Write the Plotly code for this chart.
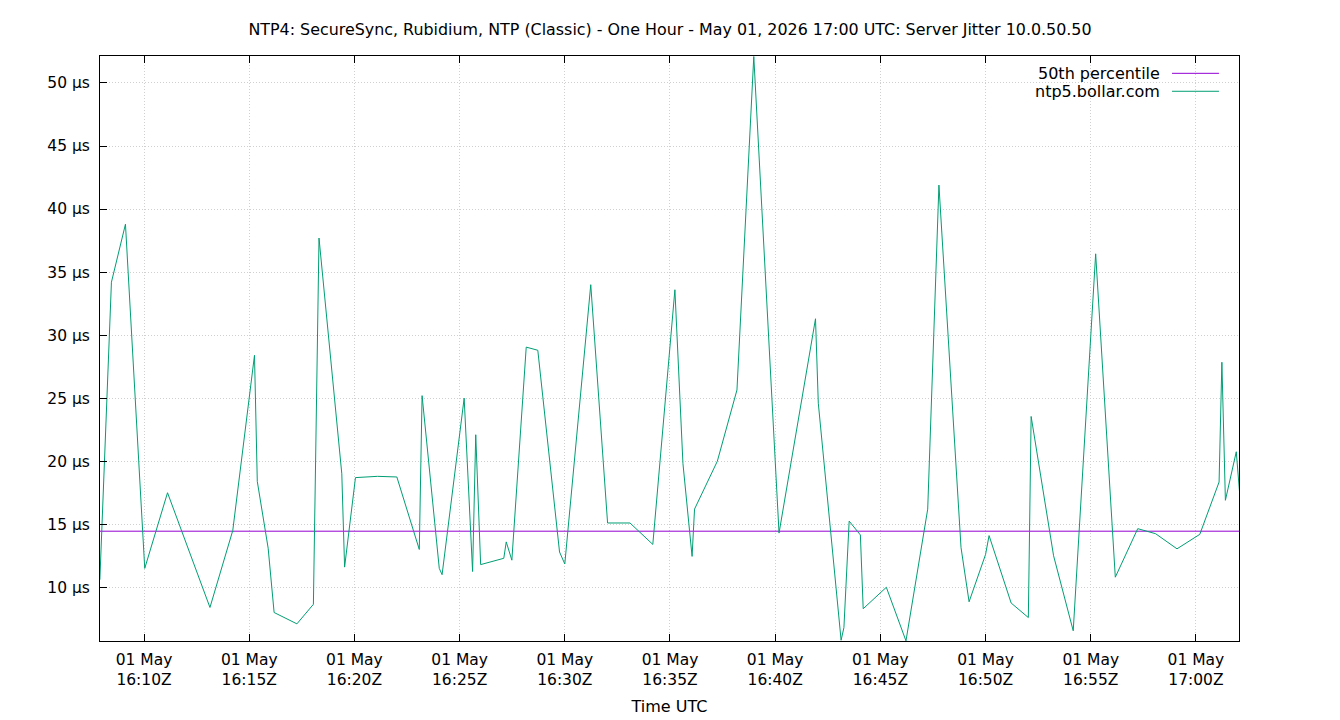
import plotly.graph_objects as go

# sample times (UTC, 01 May 2026) and server jitter in microseconds
times = [
    "16:07:54", "16:08:27", "16:09:07", "16:10:02", "16:11:07", "16:13:08",
    "16:14:13", "16:15:15", "16:15:23", "16:15:54", "16:16:11", "16:17:16",
    "16:18:03", "16:18:19", "16:19:24", "16:19:32", "16:20:03", "16:21:06",
    "16:22:01", "16:23:05", "16:23:13", "16:24:02", "16:24:10", "16:25:13",
    "16:25:37", "16:25:46", "16:26:00", "16:27:06", "16:27:13", "16:27:29",
    "16:28:10", "16:28:43", "16:29:45", "16:30:00", "16:31:14", "16:32:02",
    "16:33:06", "16:34:11", "16:35:14", "16:35:37", "16:36:03", "16:36:10",
    "16:37:15", "16:38:11", "16:38:59", "16:40:11", "16:41:55", "16:42:03",
    "16:43:08", "16:43:16", "16:43:31", "16:44:03", "16:44:11", "16:45:17",
    "16:46:13", "16:47:15", "16:47:47", "16:48:50", "16:49:13", "16:50:00",
    "16:50:10", "16:51:13", "16:52:02", "16:52:10", "16:53:14", "16:54:10",
    "16:55:14", "16:56:10", "16:57:14", "16:58:05", "16:59:06", "17:00:11",
    "17:01:06", "17:01:14", "17:01:24", "17:01:55", "17:02:08",
]
jitter = [
    10.6, 34.2, 38.8, 11.5, 17.5, 8.4,
    14.5, 28.4, 18.4, 13.1, 8.0, 7.1,
    8.65, 37.7, 19.0, 11.6, 18.7, 18.8,
    18.75, 13.0, 25.2, 11.5, 11.0, 25.0,
    11.25, 22.1, 11.8, 12.3, 13.6, 12.15,
    29.05, 28.8, 12.8, 11.85, 34.0, 15.1,
    15.1, 13.4, 33.6, 19.8, 12.45, 16.2,
    20.0, 25.65, 52.1, 14.3, 31.3, 24.6,
    5.8, 6.8, 15.25, 14.15, 8.3, 10.0,
    5.75, 16.2, 41.9, 13.15, 8.85, 12.6,
    14.1, 8.75, 7.6, 23.55, 12.5, 6.55,
    36.45, 10.8, 14.65, 14.25, 13.05, 14.2,
    18.35, 27.85, 16.9, 20.75, 16.3,
]
percentile_50 = 14.45

tick_times = ["16:10", "16:15", "16:20", "16:25", "16:30", "16:35",
              "16:40", "16:45", "16:50", "16:55", "17:00"]
y_ticks = [10, 15, 20, 25, 30, 35, 40, 45, 50]

day = "2026-05-01 "
x = [day + t for t in times]
x_range = [day + "16:07:54.4", day + "17:02:02.8"]

FONT = "DejaVu Sans"
GREEN = "#009E73"
PURPLE = "#9400D3"
GRID = "#d0d0d0"

fig = go.Figure()

fig.add_trace(go.Scatter(
    x=x_range, y=[percentile_50, percentile_50],
    mode="lines", name="50th percentile",
    line=dict(color=PURPLE, width=1),
))
fig.add_trace(go.Scatter(
    x=x, y=jitter,
    mode="lines", name="ntp5.bollar.com",
    line=dict(color=GREEN, width=1),
))

# gnuplot style key: text on the left, line sample on the right
key = [("50th percentile", PURPLE, 0.9704), ("ntp5.bollar.com", GREEN, 0.9397)]
for label, colour, ky in key:
    fig.add_annotation(
        text=label, xref="paper", yref="paper", x=0.9324, y=ky,
        xanchor="right", yanchor="middle", showarrow=False,
        font=dict(family=FONT, size=16, color="black"),
    )
    fig.add_shape(
        type="line", xref="paper", yref="paper",
        x0=0.9412, x1=0.9824, y0=ky, y1=ky,
        line=dict(color=colour, width=1),
    )

# page body adds ~8px offset, margins compensate for it
fig.update_layout(
    width=1340, height=720,
    margin=dict(l=92, r=109, t=48, b=87),
    paper_bgcolor="white", plot_bgcolor="white",
    showlegend=False,
    font=dict(family=FONT, size=15.5, color="black"),
    title=dict(
        text="NTP4: SecureSync, Rubidium, NTP (Classic) - One Hour - "
             "May 01, 2026 17:00 UTC: Server Jitter 10.0.50.50",
        x=662 / 1340, xanchor="center", y=1 - 21 / 720, yanchor="middle",
        font=dict(family=FONT, size=15.9, color="black"),
    ),
)

fig.update_xaxes(
    type="date", range=x_range, automargin=False,
    tickvals=[day + t for t in tick_times],
    ticktext=["01 May<br>" + t + "Z" for t in tick_times],
    ticks="inside", ticklen=7, tickcolor="black", tickwidth=1,
    ticklabelstandoff=4,
    showline=True, linecolor="black", linewidth=1, mirror="ticks",
    showgrid=True, gridcolor=GRID, gridwidth=1, griddash="1px,2px",
    zeroline=False,
    title=dict(text="Time UTC", standoff=13, font=dict(family=FONT, size=16)),
)
fig.update_yaxes(
    range=[5.74, 52.14], automargin=False,
    tickvals=y_ticks,
    ticktext=[str(v) + " µs" for v in y_ticks],
    ticks="inside", ticklen=7, tickcolor="black", tickwidth=1,
    ticklabelstandoff=6,
    showline=True, linecolor="black", linewidth=1, mirror=True,
    showgrid=True, gridcolor=GRID, gridwidth=1, griddash="1px,2px",
    zeroline=False,
)

fig.write_html("out.html")
